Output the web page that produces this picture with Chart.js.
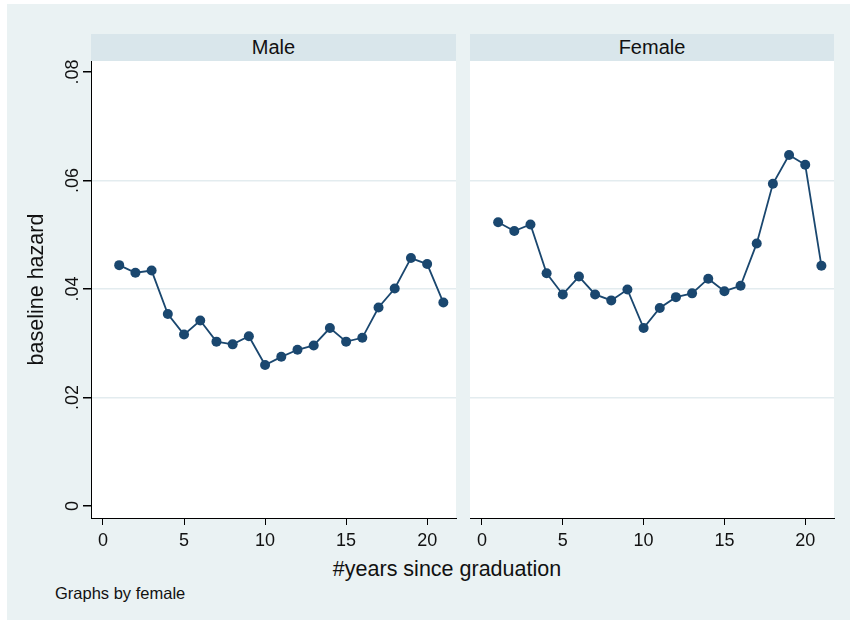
<!DOCTYPE html>
<html>
<head>
<meta charset="utf-8">
<script src="https://cdn.jsdelivr.net/npm/chart.js@4"></script>
<style>
  body { margin: 0; width: 852px; height: 624px; position: relative; overflow: hidden; background: #fff;
         font-family: "Liberation Sans", Arial, sans-serif; color: #111; }
  #frame { position: absolute; left: 7px; top: 4px; width: 843px; height: 616px; background: #EAF2F3; }
  .strip { position: absolute; top: 34px; height: 27px; line-height: 27px; background: #D9E6EB;
           font-size: 20px; text-align: center; }
  #xtitle { position: absolute; left: 247px; width: 400px; top: 559px; font-size: 21.5px; line-height: 21.5px; text-align: center; }
  #note { position: absolute; left: 55px; top: 585px; font-size: 16.5px; line-height: 16.5px; }
  canvas { position: absolute; left: 0; top: 0; }
</style>
</head>
<body>
<div id="frame"></div>
<div class="strip" style="left:91px;width:365px;">Male</div>
<div class="strip" style="left:470px;width:364px;">Female</div>
<div id="xtitle">#years since graduation</div>
<div id="note">Graphs by female</div>
<canvas id="male" width="852" height="624"></canvas>
<canvas id="female" width="852" height="624"></canvas>
<script>
const years = [1, 2, 3, 4, 5, 6, 7, 8, 9, 10, 11, 12, 13, 14, 15, 16, 17, 18, 19, 20, 21];
const maleHazard = [0.0444, 0.0430, 0.0434, 0.0354, 0.0316, 0.0342, 0.0303, 0.0298, 0.0313, 0.0260, 0.0275,
                    0.0288, 0.0296, 0.0328, 0.0303, 0.0310, 0.0366, 0.0401, 0.0457, 0.0446, 0.0375];
const femaleHazard = [0.0523, 0.0507, 0.0519, 0.0429, 0.0390, 0.0423, 0.0390, 0.0379, 0.0399, 0.0328, 0.0365,
                      0.0385, 0.0392, 0.0419, 0.0396, 0.0406, 0.0484, 0.0594, 0.0647, 0.0629, 0.0443];
const xTicks = [0, 5, 10, 15, 20];
const yTicks = [0, 0.02, 0.04, 0.06, 0.08];
const yTickLabels = ["0", ".02", ".04", ".06", ".08"];

const navy = "#1A476F";
const gridColor = "#E3ECEF";

// white plot region behind the data
const plotBg = {
  id: "plotBg",
  beforeDraw(chart) {
    const a = chart.chartArea;
    chart.ctx.save();
    chart.ctx.fillStyle = "#fff";
    chart.ctx.fillRect(a.left, a.top, a.right - a.left, a.bottom - a.top);
    chart.ctx.restore();
  },
};

function makePanel(id, values, showY, pad) {
  return new Chart(document.getElementById(id), {
    type: "line",
    data: {
      datasets: [
        {
          data: years.map((x, i) => ({ x: x, y: values[i] })),
          borderColor: navy,
          backgroundColor: navy,
          borderWidth: 1.8,
          pointRadius: 5,
          pointBorderWidth: 0,
          tension: 0,
          fill: false,
        },
      ],
    },
    options: {
      responsive: false,
      animation: false,
      devicePixelRatio: 1,
      layout: { padding: pad },
      plugins: { legend: { display: false }, tooltip: { enabled: false } },
      scales: {
        x: {
          type: "linear",
          min: -0.74,
          max: 21.78,
          afterBuildTicks: (s) => { s.ticks = xTicks.map((v) => ({ value: v })); },
          afterFit: (s) => { s.height = 106; },
          grid: { drawOnChartArea: false, tickLength: 7, tickColor: "#000" },
          border: { color: "#000", width: 1 },
          ticks: { color: "#111", font: { family: "Liberation Sans", size: 18 }, padding: 5, maxRotation: 0 },
        },
        y: {
          min: -0.00221,
          max: 0.08203,
          afterBuildTicks: (s) => { s.ticks = yTicks.map((v) => ({ value: v })); },
          afterFit: (s) => { s.width = showY ? 91 : 0; },
          grid: {
            color: (c) => (c.tick && (c.tick.value === yTicks[0] || c.tick.value === yTicks[yTicks.length - 1]) ? "rgba(0,0,0,0)" : gridColor),
            lineWidth: 1.5,
            drawTicks: showY,
            tickLength: 8,
            tickColor: "#000",
          },
          border: { display: showY, color: "#000", width: 1 },
          ticks: {
            display: showY,
            minRotation: 90,
            maxRotation: 90,
            crossAlign: "center",
            padding: -3,
            color: "#111",
            font: { family: "Liberation Sans", size: 18 },
            callback: (v) => yTickLabels[yTicks.indexOf(v)],
          },
          title: {
            display: showY,
            text: "baseline hazard",
            color: "#111",
            font: { family: "Liberation Sans", size: 21.5 },
            padding: { top: 24, bottom: 0 },
          },
        },
      },
    },
    plugins: [plotBg],
  });
}

makePanel("male", maleHazard, true, { left: 0, top: 61, right: 396, bottom: 0 });
makePanel("female", femaleHazard, false, { left: 470, top: 61, right: 18, bottom: 0 });
</script>
</body>
</html>
